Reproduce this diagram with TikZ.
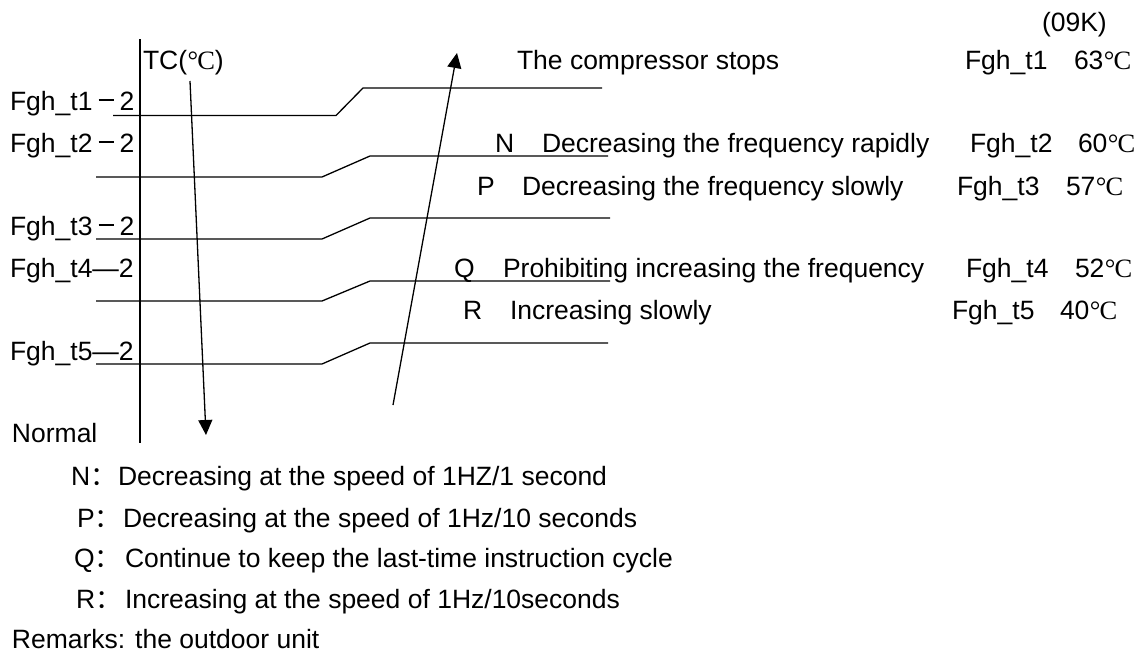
\documentclass[tikz,border=0pt]{standalone}
\usepackage{fontspec}
\setmainfont{Liberation Sans}
\newfontfamily\cjkf{Noto Sans CJK SC}
\newfontfamily\serf{Liberation Serif}
\usetikzlibrary{arrows.meta}
\newcommand{\dgc}{{\serf\kern0.5pt°\kern-1pt C}}
\newcommand{\fwc}{{\cjkf ：}}
\newcommand{\fwm}{\makebox[27pt][c]{\rule[9pt]{15pt}{1.8pt}}}
\begin{document}
\begin{tikzpicture}[x=1pt,y=-1pt,
  txt/.style={anchor=base west, inner sep=0pt, outer sep=0pt, font=\fontsize{26.5}{30}\selectfont},
  ln/.style={line width=1.3pt, line join=miter},
  arr/.style={line width=1.3pt, -{Triangle[length=15pt,width=14pt]}}]
\useasboundingbox (0,0) rectangle (1141,654);

% axis and arrows
\coordinate (axT) at (140,39);
\coordinate (axB) at (140,443);
\draw[ln] (axT) -- (axB);
\coordinate (dnS) at (190,81);
\coordinate (dnE) at (206,435);
\draw[arr] (dnS) -- (dnE);
\coordinate (upS) at (393,405);
\coordinate (upE) at (457,53);
\draw[arr] (upS) -- (upE);

% step lines
\coordinate (a1) at (113,115.5); \coordinate (b1) at (336,115.5); \coordinate (c1) at (363,88);  \coordinate (d1) at (602,88);
\coordinate (a2) at (96,177);    \coordinate (b2) at (322,177);   \coordinate (c2) at (370,156); \coordinate (d2) at (608,156);
\coordinate (a3) at (96,239);    \coordinate (b3) at (322,239);   \coordinate (c3) at (370,218); \coordinate (d3) at (610,218);
\coordinate (a4) at (96,301);    \coordinate (b4) at (322,301);   \coordinate (c4) at (370,281); \coordinate (d4) at (610,281);
\coordinate (a5) at (96,364);    \coordinate (b5) at (322,364);   \coordinate (c5) at (370,343); \coordinate (d5) at (608,343);
\foreach \i in {1,...,5} {\draw[ln] (a\i) -- (b\i) -- (c\i) -- (d\i);}

% left labels
\node[txt] (tc) at (143,69) {TC(\dgc)};
\node[txt] (l1) at (10,110) {Fgh\_t1\fwm2};
\node[txt] (l2) at (10,152) {Fgh\_t2\fwm2};
\node[txt] (l3) at (10,235) {Fgh\_t3\fwm2};
\node[txt] (l4) at (10,277) {Fgh\_t4—2};
\node[txt] (l5) at (10,360) {Fgh\_t5—2};
\node[txt] (nor) at (12,442) {Normal};

% top right
\node[txt] (k09) at (1042,31) {(09K)};
\node[txt] (stop) at (517,69) {The compressor stops};
\node[txt] (nL) at (495,152) {N};
\node[txt] (nT) at (542,152) {Decreasing the frequency rapidly};
\node[txt] (pL) at (477,195) {P};
\node[txt] (pT) at (522,195) {Decreasing the frequency slowly};
\node[txt] (qL) at (454,277) {Q};
\node[txt] (qT) at (503,277) {Prohibiting increasing the frequency};
\node[txt] (rL) at (463,319) {R};
\node[txt] (rT) at (510,319) {Increasing slowly};

% values
\node[txt] (f1) at (965,69)  {Fgh\_t1};  \node[txt] (v1) at (1074,69)  {63\dgc};
\node[txt] (f2) at (970,152) {Fgh\_t2};  \node[txt] (v2) at (1078,152) {60\dgc};
\node[txt] (f3) at (957,195) {Fgh\_t3};  \node[txt] (v3) at (1066,195) {57\dgc};
\node[txt] (f4) at (966,277) {Fgh\_t4};  \node[txt] (v4) at (1075,277) {52\dgc};
\node[txt] (f5) at (952,319) {Fgh\_t5};  \node[txt] (v5) at (1060,319) {40\dgc};

% legend
\node[txt] (gN) at (71,485)   {N\fwc};  \node[txt] (gNt) at (118,485)   {Decreasing at the speed of 1HZ/1 second};
\node[txt] (gP) at (77,527)   {P\fwc};  \node[txt] (gPt) at (123,527)   {Decreasing at the speed of 1Hz/10 seconds};
\node[txt] (gQ) at (74,567.5) {Q\fwc};  \node[txt] (gQt) at (125,567.5) {Continue to keep the last-time instruction cycle};
\node[txt] (gR) at (76,608)   {R\fwc};  \node[txt] (gRt) at (125,608)   {Increasing at the speed of 1Hz/10seconds};
\node[txt] (rem) at (12,648) {Remarks: the outdoor unit};
\end{tikzpicture}
\end{document}
